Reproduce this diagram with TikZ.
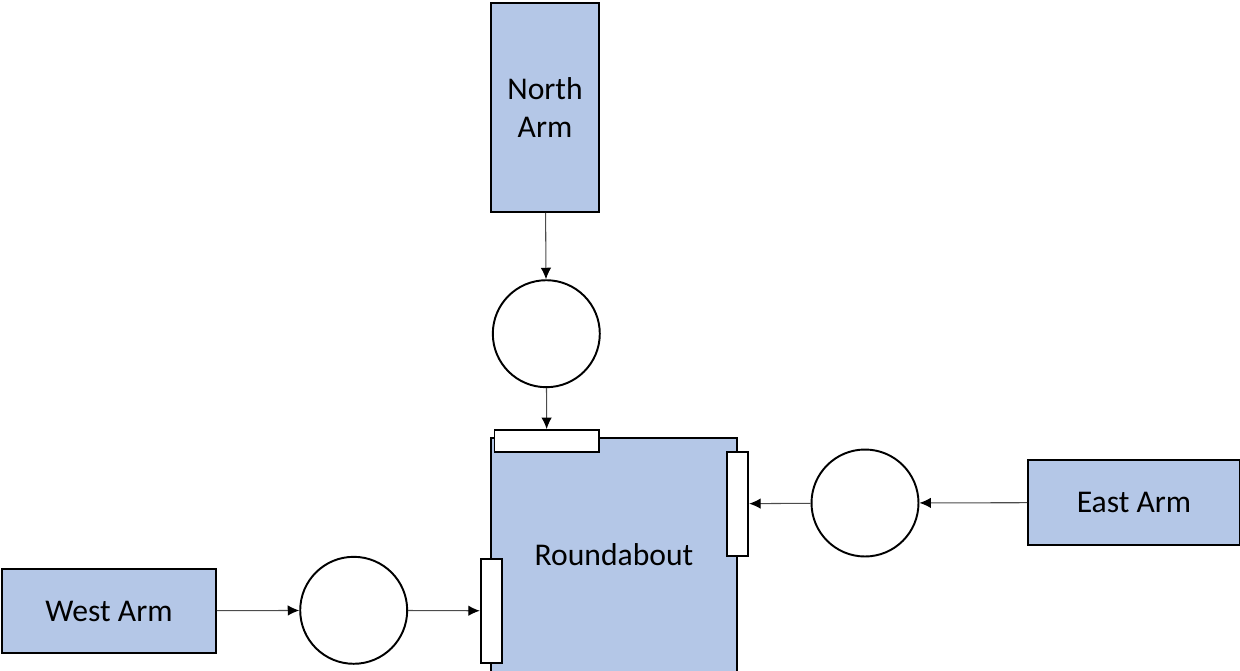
\documentclass[tikz,border=0pt]{standalone}
\usepackage{fontspec}
\setmainfont{Carlito}
\usetikzlibrary{arrows.meta}

\definecolor{armblue}{HTML}{B4C7E7}

\begin{document}
\begin{tikzpicture}[x=0.02cm, y=-0.02cm, font=\fontsize{18}{21.5}\selectfont]
    \tikzstyle{node_arm} = [draw=black, line width=1.1pt, rectangle, fill=armblue, inner sep=0pt, align=center]
    \tikzstyle{node_queue} = [draw=black, line width=1.1pt, circle, fill=white, inner sep=0pt, minimum size=2.14cm]
    \tikzstyle{node_gate} = [draw=black, line width=1.1pt, rectangle, fill=white, inner sep=0pt]
    \tikzstyle{arrow_black} = [-{Latex[length=2.3mm, width=2.1mm, color=black]}, black!70, line width=0.6pt]

    \path[use as bounding box, clip] (0,0) rectangle (1240,670);

    % arms and the roundabout
    \node[node_arm, minimum width=2.16cm, minimum height=4.18cm] (nN) at (545,107.5) {North\\Arm};
    \node[node_arm, minimum width=4.24cm, minimum height=1.7cm] (nE) at (1134,502.5) {East Arm};
    \node[node_arm, minimum width=4.28cm, minimum height=1.68cm] (nW) at (109,611) {West Arm};
    \node[node_arm, minimum width=4.92cm, minimum height=4.68cm] (nR) at (614,555) {Roundabout};

    % ---------------------------------------

    \node[node_queue] (cN) at (546.3,333.7) {};
    \node[node_queue] (cE) at (865,503) {};
    \node[node_queue] (cW) at (353.7,610.3) {};

    \node[node_gate, minimum width=2.09cm, minimum height=0.44cm] (sN) at (546.7,441) {};
    \node[node_gate, minimum width=0.43cm, minimum height=2.08cm] (sE) at (737.5,503.7) {};
    \node[node_gate, minimum width=0.43cm, minimum height=2.07cm] (sW) at (491.5,610.8) {};

    % ---------------------------------------

    \draw[arrow_black] (nN) -- (cN);
    \draw[arrow_black] (cN) -- (sN);
    \draw[arrow_black] (nE) -- (cE);
    \draw[arrow_black] (cE) -- (sE);
    \draw[arrow_black] (nW) -- (cW);
    \draw[arrow_black] (cW) -- (sW);

\end{tikzpicture}
\end{document}
